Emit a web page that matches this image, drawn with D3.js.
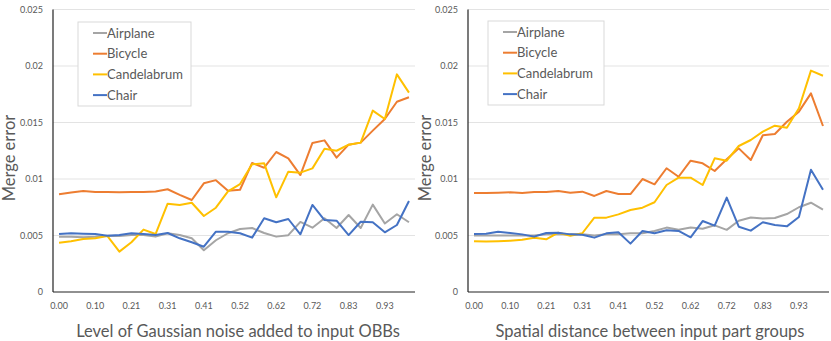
<!DOCTYPE html>
<html>
<head>
<meta charset="utf-8">
<script src="https://cdn.jsdelivr.net/npm/d3@7"></script>
<style>
  body { margin: 0; background: #fff; }
  svg text { font-family: Lato, "Open Sans", sans-serif; fill: #595959; }
</style>
</head>
<body>
<svg id="chart" width="831" height="341"></svg>
<script>
// categories: 30 levels from 0 to 1
const levels = d3.range(30).map(i => i / 29);
const seriesNames = ["Airplane", "Bicycle", "Candelabrum", "Chair"];
const yTicks = [0, 0.005, 0.01, 0.015, 0.02, 0.025];

// left panel: Gaussian noise
const noiseAirplane = [0.0049, 0.0049, 0.00485, 0.0049, 0.00498, 0.00496, 0.00504, 0.00504, 0.0049, 0.00519,
  0.00504, 0.00475, 0.0037, 0.00458, 0.0052, 0.00558, 0.00566, 0.00522, 0.0049, 0.00503,
  0.0062, 0.00569, 0.00652, 0.00566, 0.00681, 0.00566, 0.00773, 0.00606, 0.00688, 0.00617];
const noiseBicycle = [0.00866, 0.0088, 0.00893, 0.00885, 0.00885, 0.00882, 0.00885, 0.00885, 0.0089, 0.00909,
  0.0086, 0.00814, 0.00962, 0.0099, 0.00897, 0.00905, 0.01142, 0.011, 0.01239, 0.01183,
  0.01035, 0.01319, 0.01342, 0.01189, 0.01304, 0.01322, 0.01428, 0.01531, 0.01684, 0.01723];
const noiseCandelabrum = [0.00436, 0.00449, 0.00469, 0.00475, 0.00496, 0.00357, 0.0044, 0.00552, 0.00513, 0.00782,
  0.0077, 0.0079, 0.00673, 0.00746, 0.0089, 0.00955, 0.0113, 0.01139, 0.00838, 0.01065,
  0.01056, 0.01094, 0.01268, 0.0125, 0.01304, 0.01322, 0.01605, 0.01531, 0.01926, 0.01764];
const noiseChair = [0.00513, 0.00519, 0.00516, 0.00513, 0.00498, 0.00504, 0.00519, 0.00513, 0.00504, 0.00522,
  0.00475, 0.0044, 0.00401, 0.00534, 0.00534, 0.0052, 0.00481, 0.00652, 0.00617, 0.00646,
  0.00511, 0.0077, 0.00637, 0.00631, 0.00504, 0.00622, 0.00617, 0.00528, 0.00593, 0.00805];

// right panel: spatial distance
const distAirplane = [0.005, 0.005, 0.005, 0.005, 0.005, 0.005, 0.0051, 0.0051, 0.0051, 0.0051,
  0.005, 0.0051, 0.0051, 0.0052, 0.0052, 0.0054, 0.0057, 0.0055, 0.0057, 0.0056,
  0.0059, 0.0055, 0.0063, 0.0066, 0.0065, 0.00655, 0.0069, 0.0075, 0.0079, 0.0073];
const distBicycle = [0.00876, 0.00876, 0.00879, 0.00882, 0.00876, 0.00885, 0.00885, 0.00894, 0.00879, 0.00888,
  0.0085, 0.00894, 0.00867, 0.00867, 0.01, 0.00953, 0.01095, 0.0102, 0.01162, 0.01139,
  0.01071, 0.01174, 0.01271, 0.01168, 0.01387, 0.01398, 0.01507, 0.01596, 0.01758, 0.01469];
const distCandelabrum = [0.00449, 0.00446, 0.00449, 0.00454, 0.00462, 0.00481, 0.00466, 0.00525, 0.00498, 0.0052,
  0.00658, 0.00658, 0.00687, 0.00726, 0.00746, 0.00794, 0.00947, 0.01012, 0.01012, 0.00947,
  0.01183, 0.01162, 0.01292, 0.01345, 0.01419, 0.01472, 0.01454, 0.01626, 0.01959, 0.01914];
const distChair = [0.00513, 0.00516, 0.00534, 0.00522, 0.0051, 0.0049, 0.00522, 0.00525, 0.0051, 0.00507,
  0.00481, 0.00519, 0.00528, 0.00428, 0.0054, 0.0052, 0.00546, 0.0054, 0.00484, 0.00628,
  0.00587, 0.00835, 0.00578, 0.00543, 0.00617, 0.00593, 0.00581, 0.00664, 0.01082, 0.00905];

const colors = { Airplane: "#a5a5a5", Bicycle: "#ed7d31", Candelabrum: "#ffc000", Chair: "#4472c4" };

const panels = [
  { left: 53, right: 415, title: "Level of Gaussian noise added to input OBBs", titleX: 238, yTitleX: 9,
    legend: { x: 78, y: 22, w: 113, h: 84 },
    data: [noiseAirplane, noiseBicycle, noiseCandelabrum, noiseChair] },
  { left: 468, right: 829, title: "Spatial distance between input part groups", titleX: 650, yTitleX: 425,
    legend: { x: 488, y: 21, w: 116, h: 84 },
    data: [distAirplane, distBicycle, distCandelabrum, distChair] }
];

const svg = d3.select("#chart");
const plotTop = 9.5, plotBottom = 292;

function drawPanel(p) {
  const g = svg.append("g");
  const x = d3.scaleBand().domain(d3.range(levels.length)).range([p.left, p.right]);
  const y = d3.scaleLinear().domain([0, 0.025]).range([plotBottom, plotTop]);
  const cx = i => x(i) + x.bandwidth() / 2;

  // gridlines
  g.append("g").selectAll("line").data(yTicks.slice(1)).enter().append("line")
    .attr("x1", p.left).attr("x2", p.right)
    .attr("y1", d => y(d)).attr("y2", d => y(d))
    .attr("stroke", "#e3e3e3").attr("stroke-width", 1);

  // y axis labels
  const yAxis = d3.axisLeft(y).tickValues(yTicks).tickSize(0).tickPadding(10)
    .tickFormat(d => d === 0 ? "0" : String(+d.toFixed(3)));
  g.append("g").attr("transform", `translate(${p.left},0)`).call(yAxis)
    .call(a => a.select(".domain").remove())
    .selectAll("text").style("font-size", "9px").attr("fill", "#595959");

  // x axis labels every 3rd category
  const xAxis = d3.axisBottom(x).tickValues(d3.range(0, 30, 3)).tickSize(0).tickPadding(11)
    .tickFormat(i => levels[i].toFixed(2));
  g.append("g").attr("transform", `translate(0,${plotBottom})`).call(xAxis)
    .call(a => a.select(".domain").remove())
    .selectAll("text").style("font-size", "9px").attr("fill", "#595959");

  // axis lines
  g.append("line").attr("x1", p.left).attr("x2", p.left).attr("y1", plotTop).attr("y2", plotBottom)
    .attr("stroke", "#222").attr("stroke-width", 1.2);
  g.append("line").attr("x1", p.left).attr("x2", p.right).attr("y1", plotBottom).attr("y2", plotBottom)
    .attr("stroke", "#222").attr("stroke-width", 1.2);

  // series lines
  const line = d3.line().x((d, i) => cx(i)).y(d => y(d));
  p.data.forEach((vals, k) => {
    g.append("path").datum(vals)
      .attr("d", line).attr("fill", "none")
      .attr("stroke", colors[seriesNames[k]]).attr("stroke-width", 2)
      .attr("stroke-linejoin", "round");
  });

  // titles
  g.append("text").attr("x", p.titleX).attr("y", 337).attr("text-anchor", "middle")
    .style("font-size", "16.5px").text(p.title);
  g.append("text").attr("transform", `translate(${p.yTitleX + 6},158) rotate(-90)`)
    .attr("text-anchor", "middle").style("font-size", "16.5px").text("Merge error");

  // legend
  const L = p.legend;
  const lg = g.append("g");
  lg.append("rect").attr("x", L.x).attr("y", L.y).attr("width", L.w).attr("height", L.h)
    .attr("fill", "#fff").attr("stroke", "#d9d9d9");
  seriesNames.forEach((name, k) => {
    const ry = L.y + 11 + k * 20.7;
    lg.append("line").attr("x1", L.x + 15).attr("x2", L.x + 29).attr("y1", ry).attr("y2", ry)
      .attr("stroke", colors[name]).attr("stroke-width", 2);
    lg.append("text").attr("x", L.x + 29).attr("y", ry + 4.5).style("font-size", "13px").text(name);
  });
}

panels.forEach(drawPanel);
</script>
</body>
</html>
